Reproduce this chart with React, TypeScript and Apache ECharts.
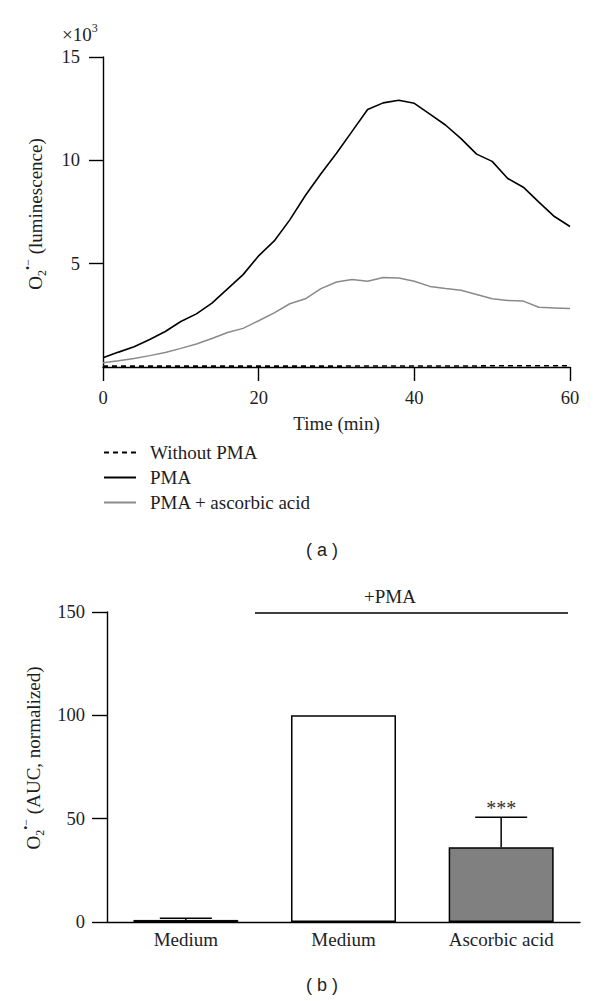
import React, { useEffect, useRef } from "react";
import * as echarts from "echarts";

// ---- Panel (a): luminescence time course (x10^3) ----
const TIME_MIN = [0, 2, 4, 6, 8, 10, 12, 14, 16, 18, 20, 22, 24, 26, 28, 30, 32, 34, 36, 38, 40, 42, 44, 46, 48, 50, 52, 54, 56, 58, 60];
const WITHOUT_PMA = [0.04, 0.04, 0.04, 0.04, 0.04, 0.04, 0.04, 0.04, 0.04, 0.04, 0.04, 0.04, 0.04, 0.04, 0.04, 0.04, 0.05, 0.05, 0.05, 0.05, 0.05, 0.05, 0.05, 0.05, 0.05, 0.06, 0.06, 0.06, 0.06, 0.06, 0.06];
const PMA = [0.45, 0.72, 0.98, 1.33, 1.72, 2.2, 2.57, 3.09, 3.78, 4.47, 5.38, 6.1, 7.12, 8.3, 9.35, 10.34, 11.4, 12.46, 12.78, 12.91, 12.76, 12.24, 11.71, 11.05, 10.3, 9.95, 9.12, 8.7, 7.98, 7.28, 6.8];
const PMA_ASC = [0.2, 0.3, 0.41, 0.55, 0.7, 0.9, 1.11, 1.38, 1.67, 1.87, 2.24, 2.62, 3.06, 3.3, 3.79, 4.11, 4.23, 4.15, 4.33, 4.31, 4.15, 3.9, 3.8, 3.71, 3.51, 3.3, 3.22, 3.19, 2.89, 2.86, 2.83];
const SERIES_NAMES = ["Without PMA", "PMA", "PMA + ascorbic acid"];
const Y1_TICKS = [5, 10, 15];

// ---- Panel (b): AUC normalized ----
const BAR_CATEGORIES = ["Medium", "Medium", "Ascorbic acid"];
const BAR_VALUES = [1, 100, 36.2];
const BAR_ERR_UPPER = [1.8, null, 50.7];
const BAR_SIG = ["", "", "***"];

const SERIF = "'Liberation Serif', 'DejaVu Serif', 'Times New Roman', serif";
const SANS = "'Liberation Sans', Arial, sans-serif";
const TXT = "#1e1e1e";

function pairs(xs: number[], ys: number[]) {
  return xs.map((x, i) => [x, ys[i]]);
}

function yLabelRich(rest: string) {
  return {
    text: "{o|O}{s|2}{p|•−}{n|" + rest + "}",
    rich: {
      o: { fontSize: 19, fontFamily: SERIF, lineHeight: 26, verticalAlign: "middle", fill: TXT, color: TXT },
      s: { fontSize: 12, fontFamily: SERIF, lineHeight: 12, verticalAlign: "bottom", fill: TXT, color: TXT },
      p: { fontSize: 12, fontFamily: SERIF, lineHeight: 12, verticalAlign: "top", fill: TXT, color: TXT },
      n: { fontSize: 19, fontFamily: SERIF, lineHeight: 26, verticalAlign: "middle", fill: TXT, color: TXT },
    },
  };
}

export default function App() {
  const ref = useRef<HTMLDivElement>(null);

  useEffect(() => {
    document.body.style.margin = "0";
    if (!ref.current) return;
    const chart = echarts.init(ref.current, undefined, { renderer: "svg" });

    const errData = BAR_CATEGORIES.map((_, i) => [i, BAR_VALUES[i], BAR_ERR_UPPER[i]]).filter(
      (d) => d[2] !== null
    );

    const axisLineStyle = { color: "#000", width: 1.4 };
    const labelStyle = { fontFamily: SERIF, fontSize: 18.5, color: TXT };

    const option: any = {
      animation: false,
      backgroundColor: "#fff",
      textStyle: { fontFamily: SERIF },
      grid: [
        { left: 103, top: 57, width: 467, height: 310 },
        { left: 107, top: 612, width: 473, height: 310 },
      ],
      legend: {
        data: SERIES_NAMES,
        orient: "vertical",
        left: 103,
        top: 443,
        padding: 0,
        itemWidth: 32,
        itemHeight: 14,
        itemGap: 6,
        selectedMode: false,
        itemStyle: { opacity: 0 },
        textStyle: { fontFamily: SERIF, fontSize: 19, color: TXT, padding: [0, 0, 0, 9] },
      },
      xAxis: [
        {
          gridIndex: 0,
          type: "value",
          min: 0,
          max: 60,
          interval: 20,
          name: "Time (min)",
          nameLocation: "middle",
          nameGap: 47,
          nameTextStyle: { fontFamily: SERIF, fontSize: 19, color: TXT },
          axisLine: { show: true, lineStyle: axisLineStyle },
          axisTick: { show: true, length: 14, lineStyle: axisLineStyle },
          axisLabel: { ...labelStyle, margin: 21 },
          splitLine: { show: false },
        },
        {
          gridIndex: 1,
          type: "category",
          data: BAR_CATEGORIES,
          axisLine: { show: true, lineStyle: axisLineStyle },
          axisTick: { show: false },
          axisLabel: { ...labelStyle, fontSize: 19, margin: 8 },
          splitLine: { show: false },
        },
      ],
      yAxis: [
        {
          gridIndex: 0,
          type: "value",
          min: 0,
          max: 15,
          interval: 5,
          axisLine: { show: true, lineStyle: axisLineStyle },
          axisTick: { show: true, length: 14, lineStyle: axisLineStyle, customValues: Y1_TICKS },
          axisLabel: { ...labelStyle, margin: 23, customValues: Y1_TICKS },
          splitLine: { show: false },
        },
        {
          gridIndex: 1,
          type: "value",
          min: 0,
          max: 150,
          interval: 50,
          axisLine: { show: true, lineStyle: axisLineStyle },
          axisTick: { show: true, length: 15, lineStyle: axisLineStyle },
          axisLabel: { ...labelStyle, margin: 22 },
          splitLine: { show: false },
        },
      ],
      series: [
        {
          name: SERIES_NAMES[0],
          type: "line",
          xAxisIndex: 0,
          yAxisIndex: 0,
          data: pairs(TIME_MIN, WITHOUT_PMA),
          symbol: "none",
          lineStyle: { color: "#000", width: 1.6, type: [5, 4] },
          itemStyle: { color: "#000" },
          z: 3,
        },
        {
          name: SERIES_NAMES[1],
          type: "line",
          xAxisIndex: 0,
          yAxisIndex: 0,
          data: pairs(TIME_MIN, PMA),
          symbol: "none",
          lineStyle: { color: "#000", width: 1.6 },
          itemStyle: { color: "#000" },
        },
        {
          name: SERIES_NAMES[2],
          type: "line",
          xAxisIndex: 0,
          yAxisIndex: 0,
          data: pairs(TIME_MIN, PMA_ASC),
          symbol: "none",
          lineStyle: { color: "#8a8a8a", width: 1.5 },
          itemStyle: { color: "#8a8a8a" },
        },
        {
          type: "bar",
          xAxisIndex: 1,
          yAxisIndex: 1,
          barWidth: 105,
          data: [
            { value: BAR_VALUES[0], itemStyle: { color: "#000", borderColor: "#000", borderWidth: 1 } },
            { value: BAR_VALUES[1], itemStyle: { color: "#fff", borderColor: "#000", borderWidth: 1.5 } },
            { value: BAR_VALUES[2], itemStyle: { color: "#808080", borderColor: "#000", borderWidth: 1.5 } },
          ],
        },
        {
          type: "custom",
          xAxisIndex: 1,
          yAxisIndex: 1,
          z: 5,
          data: errData,
          renderItem: (params: any, api: any) => {
            const idx = api.value(0);
            const mean = api.value(1);
            const up = api.value(2);
            const p0 = api.coord([idx, mean]);
            const p1 = api.coord([idx, up]);
            const band = api.size([1, 0])[0];
            const half = band * 0.165;
            const children: any[] = [
              {
                type: "line",
                shape: { x1: p0[0], y1: p0[1], x2: p1[0], y2: p1[1] },
                style: { stroke: "#000", lineWidth: 1.5 },
              },
              {
                type: "line",
                shape: { x1: p1[0] - half, y1: p1[1], x2: p1[0] + half, y2: p1[1] },
                style: { stroke: "#000", lineWidth: 1.5 },
              },
            ];
            const sig = BAR_SIG[idx];
            if (sig) {
              children.push({
                type: "text",
                x: p1[0],
                y: p1[1] - 9,
                style: {
                  text: sig,
                  fontFamily: SERIF,
                  fontSize: 20,
                  fill: "#333",
                  align: "center",
                  verticalAlign: "middle",
                  textAlign: "center",
                  textVerticalAlign: "middle",
                },
              });
            }
            return { type: "group", children };
          },
        },
      ],
      graphic: [
        {
          type: "text",
          left: 62,
          top: 22,
          style: {
            text: "{m|×10}{p|3}",
            rich: {
              m: { fontSize: 19, fontFamily: SERIF, lineHeight: 22, verticalAlign: "bottom", fill: TXT, color: TXT },
              p: { fontSize: 12, fontFamily: SERIF, lineHeight: 12, verticalAlign: "top", fill: TXT, color: TXT },
            },
          },
        },
        {
          type: "text",
          x: 35,
          y: 214,
          rotation: Math.PI / 2,
          style: {
            ...yLabelRich(" (luminescence)"),
            align: "center",
            verticalAlign: "middle",
            textAlign: "center",
            textVerticalAlign: "middle",
          },
        },
        {
          type: "text",
          x: 33,
          y: 758,
          rotation: Math.PI / 2,
          style: {
            ...yLabelRich(" (AUC, normalized)"),
            align: "center",
            verticalAlign: "middle",
            textAlign: "center",
            textVerticalAlign: "middle",
          },
        },
        {
          type: "text",
          x: 322,
          y: 550,
          style: {
            text: "( a )",
            fontFamily: SANS,
            fontSize: 18,
            fill: TXT,
            align: "center",
            verticalAlign: "middle",
            textAlign: "center",
            textVerticalAlign: "middle",
          },
        },
        {
          type: "text",
          x: 322,
          y: 985,
          style: {
            text: "( b )",
            fontFamily: SANS,
            fontSize: 18,
            fill: TXT,
            align: "center",
            verticalAlign: "middle",
            textAlign: "center",
            textVerticalAlign: "middle",
          },
        },
        {
          type: "text",
          x: 390,
          y: 596,
          style: {
            text: "+PMA",
            fontFamily: SERIF,
            fontSize: 19,
            fill: TXT,
            align: "center",
            verticalAlign: "middle",
            textAlign: "center",
            textVerticalAlign: "middle",
          },
        },
        {
          type: "line",
          shape: { x1: 255, y1: 613, x2: 568, y2: 613 },
          style: { stroke: "#000", lineWidth: 1.5 },
        },
      ],
    };

    chart.setOption(option);
    return () => chart.dispose();
  }, []);

  return <div ref={ref} style={{ width: 600, height: 1001 }} />;
}
